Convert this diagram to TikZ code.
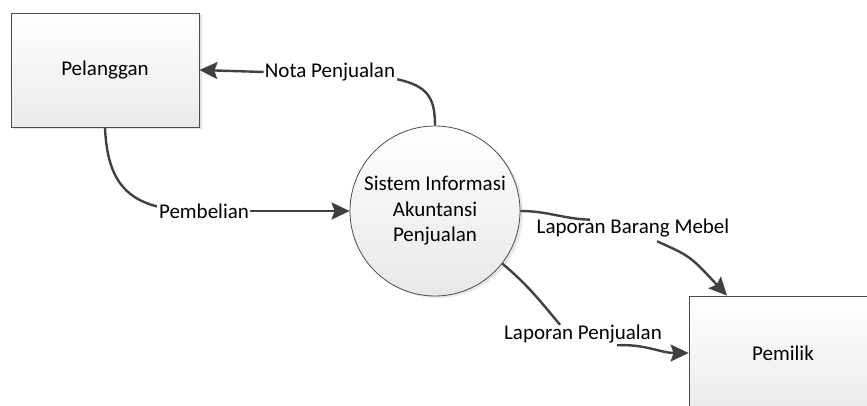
\documentclass[tikz,border=0pt]{standalone}
\usepackage{fontspec}
\setmainfont{Carlito}
\usetikzlibrary{arrows.meta,shadows}

\begin{document}
\begin{tikzpicture}[x=1pt,y=-1pt,
    every node/.style={font=\fontsize{21}{25.5}\selectfont},
    entity/.style={draw=black!70,line width=0.8pt,top color=white,bottom color=black!8,
      minimum width=188pt,minimum height=114pt,
      drop shadow={shadow xshift=3pt,shadow yshift=-2pt,fill=black!22}},
    process/.style={circle,draw=black!70,line width=0.8pt,top color=white,bottom color=black!9,
      minimum size=170pt,align=center,inner sep=0pt,
      drop shadow={shadow xshift=3pt,shadow yshift=-2pt,fill=black!18}},
    flow/.style={draw=black!75,line width=2.4pt,-{Stealth[length=18pt,width=17pt,inset=3pt]}},
    link/.style={draw=black!75,line width=2.4pt},
    lbl/.style={inner sep=1pt}]
  \clip (0,0) rectangle (867,406);
  \node[entity] (pel) at (105,70) {Pelanggan};
  \node[entity] (pem) at (783,353) {Pemilik};
  \node[process] (sia) at (435,211) {Sistem Informasi\\Akuntansi\\Penjualan};
  \node[lbl] (nota) at (330,72) {Nota Penjualan};
  \node[lbl] (pemb) at (204,211) {Pembelian};
  \node[lbl] (lbm) at (633,228) {Laporan Barang Mebel};
  \node[lbl] (lp) at (583,334) {Laporan Penjualan};
  % nota penjualan
  \draw[link] (sia.north) .. controls (435,98) and (428,86) .. ([xshift=1pt,yshift=3pt]nota.south east);
  \draw[flow] (nota.west) -- (pel.east);
  % pembelian
  \draw[link] (pel.south) .. controls (107,178) and (125,198) .. ([xshift=-1pt,yshift=-4pt]pemb.north west);
  \draw[flow] (pemb.east) to[out=0,in=180] (sia.west);
  % laporan
  \draw[link] (sia.east) to[out=0,in=178] ([xshift=-43pt,yshift=-2pt]lbm.north);
  \draw[flow] ([xshift=24pt,yshift=-3pt]lbm.south) .. controls (690,256) .. ([xshift=-56pt]pem.north);
  \draw[link] (sia.-38) to[out=-40,in=130] ([xshift=-23pt,yshift=-1pt]lp.north);
  \draw[flow] ([xshift=34pt,yshift=-1pt]lp.south) to[out=3,in=180] (pem.west);
\end{tikzpicture}
\end{document}
